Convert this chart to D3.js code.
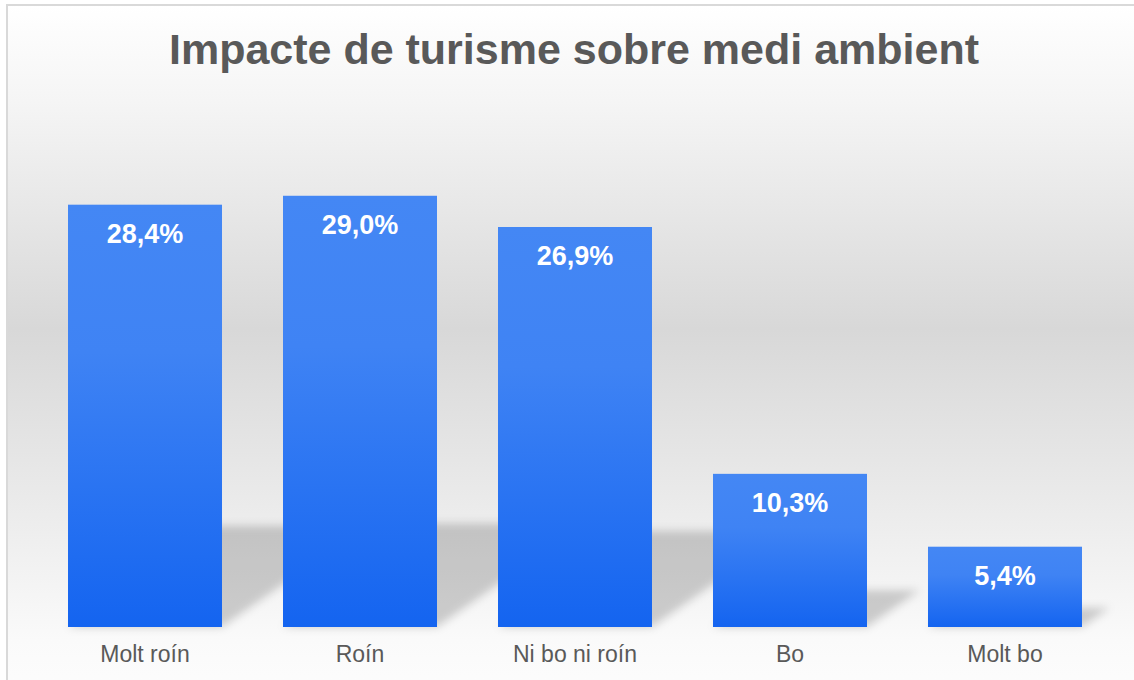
<!DOCTYPE html>
<html>
<head>
<meta charset="utf-8">
<script src="https://cdn.jsdelivr.net/npm/d3@7"></script>
<style>
  html, body { margin: 0; padding: 0; background: #fff; }
  svg { display: block; font-family: "Liberation Sans", Arial, sans-serif; }
</style>
</head>
<body>
<svg id="chart" width="1134" height="680"></svg>
<script>
const categories = ["Molt roín", "Roín", "Ni bo ni roín", "Bo", "Molt bo"];
const values = [28.4, 29.0, 26.9, 10.3, 5.4];
const title = "Impacte de turisme sobre medi ambient";

const width = 1134;
const height = 680;
const base = 627;

const svg = d3.select("#chart");
const defs = svg.append("defs");

// background gradient, white at the top, grey in the middle, white again near the axis
const bg = defs.append("linearGradient").attr("id", "bg")
    .attr("x1", 0).attr("y1", 0).attr("x2", 0).attr("y2", 1);
[[0, "#ffffff"], [0.14, "#f5f5f5"], [0.47, "#d8d8d8"], [0.7, "#e9e9e9"], [0.92, "#fafafa"], [1, "#fdfdfd"]]
  .forEach(s => bg.append("stop").attr("offset", s[0]).attr("stop-color", s[1]));

const barGrad = defs.append("linearGradient").attr("id", "bar")
    .attr("x1", 0).attr("y1", 0).attr("x2", 0).attr("y2", 1);
[[0, "#4487f4"], [0.35, "#3f83f4"], [1, "#1464f0"]]
  .forEach(s => barGrad.append("stop").attr("offset", s[0]).attr("stop-color", s[1]));

defs.append("filter").attr("id", "blur")
    .attr("x", "-20%").attr("y", "-20%").attr("width", "140%").attr("height", "140%")
  .append("feGaussianBlur").attr("stdDeviation", 4);

svg.append("rect")
    .attr("x", 7).attr("y", 5)
    .attr("width", 1135).attr("height", 690)
    .attr("fill", "url(#bg)")
    .attr("stroke", "#d9d9d9")
    .attr("stroke-width", 2);

const x = d3.scaleBand()
    .domain(categories)
    .range([37.5, 1112.5])
    .paddingInner(0.2837)
    .paddingOuter(0.1419);

const y = d3.scaleLinear([0, 30], [base, base - 30 * 14.87]);

const fmt = d3.formatLocale({decimal: ",", thousands: ".", grouping: [3], currency: ["", "€"]}).format(".1f");

const data = categories.map((c, i) => ({cat: c, val: values[i]}));

// perspective shadow lying behind each bar
const k = 0.24, slope = 0.7;
svg.append("g")
    .attr("filter", "url(#blur)")
  .selectAll("path")
  .data(data)
  .join("path")
    .attr("fill", "#000")
    .attr("fill-opacity", 0.18)
    .attr("d", d => {
      const x0 = x(d.cat), x1 = x0 + x.bandwidth();
      const sh = (base - y(d.val)) * k;
      const dx = sh / slope;
      return `M${x0},${base}L${x1},${base}L${x1 + dx},${base - sh}L${x0 + dx},${base - sh}Z`;
    });

svg.append("g")
  .selectAll("rect")
  .data(data)
  .join("rect")
    .attr("x", d => x(d.cat))
    .attr("y", d => y(d.val))
    .attr("width", x.bandwidth())
    .attr("height", d => base - y(d.val))
    .attr("fill", "url(#bar)");

svg.append("g")
  .selectAll("text")
  .data(data)
  .join("text")
    .attr("x", d => x(d.cat) + x.bandwidth() / 2)
    .attr("y", d => y(d.val) + 38)
    .attr("text-anchor", "middle")
    .attr("fill", "#ffffff")
    .attr("font-weight", "bold")
    .attr("font-size", 27)
    .text(d => fmt(d.val) + "%");

// category axis, no line or ticks
const xAxis = svg.append("g")
    .attr("transform", `translate(0,${base})`)
    .call(d3.axisBottom(x).tickSize(0).tickPadding(35));
xAxis.select(".domain").remove();
xAxis.selectAll("text")
    .attr("fill", "#595959")
    .attr("font-size", 23)
    .attr("font-family", "'Liberation Sans', Arial, sans-serif")
    .attr("dy", null)
    .attr("y", 35);

svg.append("text")
    .attr("x", 574)
    .attr("y", 64)
    .attr("text-anchor", "middle")
    .attr("fill", "#595959")
    .attr("font-weight", "bold")
    .attr("font-size", 43)
    .text(title);
</script>
</body>
</html>
